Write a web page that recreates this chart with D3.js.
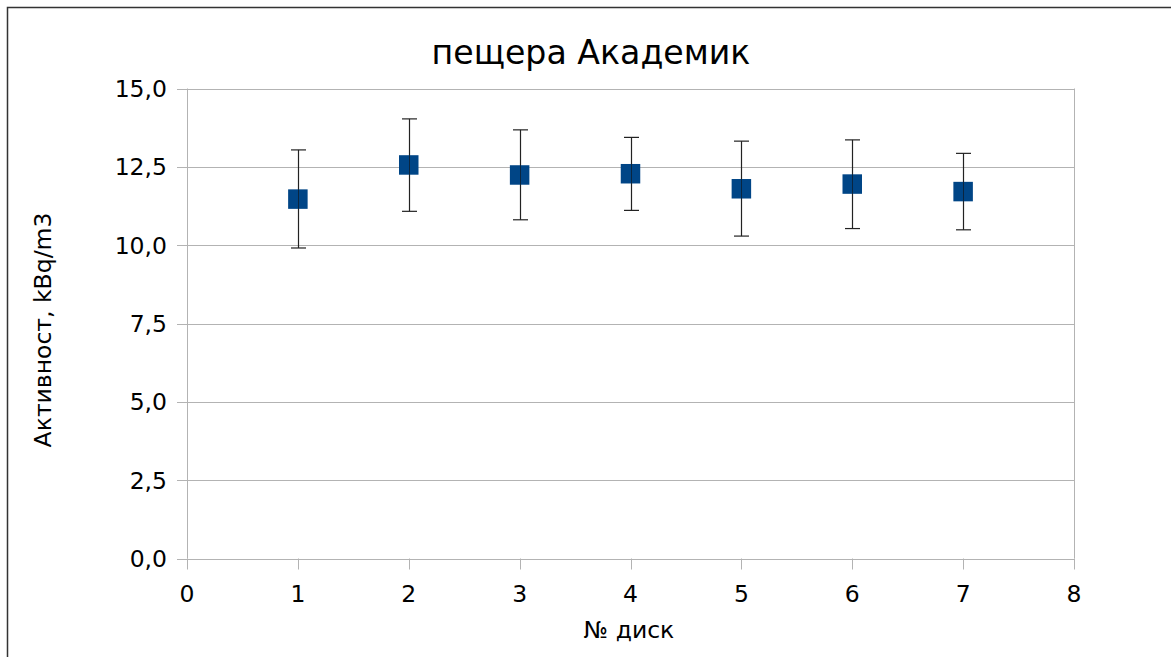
<!DOCTYPE html>
<html>
<head>
<meta charset="utf-8">
<script src="https://cdn.jsdelivr.net/npm/d3@7"></script>
<style>
  body { margin: 0; background: #fff; }
  svg { display: block; font-family: "DejaVu Sans", sans-serif; }
</style>
</head>
<body>
<svg id="chart"></svg>
<script>
const disks = [1, 2, 3, 4, 5, 6, 7];
const activity = [11.47, 12.56, 12.24, 12.28, 11.80, 11.95, 11.71];
const errHigh = [13.04, 14.03, 13.68, 13.44, 13.32, 13.36, 12.93];
const errLow = [9.91, 11.08, 10.81, 11.11, 10.29, 10.53, 10.49];
const yTicks = [0, 2.5, 5, 7.5, 10, 12.5, 15];
const xTicks = [0, 1, 2, 3, 4, 5, 6, 7, 8];

const width = 1171, height = 657;
const plot = { left: 187, right: 1074, top: 88.5, bottom: 558.5 };

const svg = d3.select('#chart')
  .attr('width', width)
  .attr('height', height);

// outer frame (only left and top visible)
svg.append('path')
  .attr('d', `M7.5,${height} V7.5 H${width}`)
  .attr('fill', 'none')
  .attr('stroke', '#333')
  .attr('stroke-width', 1.5);

const x = d3.scaleLinear().domain([0, 8]).range([plot.left, plot.right]);
const y = d3.scaleLinear().domain([0, 15]).range([plot.bottom, plot.top]);

const fmt = d => d.toFixed(1).replace('.', ',');

// horizontal gridlines
svg.append('g')
  .selectAll('line')
  .data(yTicks)
  .join('line')
  .attr('x1', plot.left - 10)
  .attr('x2', plot.right)
  .attr('y1', d => Math.round(y(d)) + 0.5)
  .attr('y2', d => Math.round(y(d)) + 0.5)
  .attr('stroke', '#b3b3b3');

// left and right frame
svg.append('g')
  .selectAll('line')
  .data([0, 8])
  .join('line')
  .attr('x1', d => Math.round(x(d)) + 0.5)
  .attr('x2', d => Math.round(x(d)) + 0.5)
  .attr('y1', plot.top)
  .attr('y2', plot.bottom)
  .attr('stroke', '#b3b3b3');

// y axis labels
svg.append('g')
  .selectAll('text')
  .data(yTicks)
  .join('text')
  .attr('x', plot.left - 20)
  .attr('y', d => y(d))
  .attr('dy', '0.36em')
  .attr('text-anchor', 'end')
  .attr('font-size', 23.5)
  .text(fmt);

// x axis ticks
svg.append('g')
  .selectAll('line')
  .data(xTicks)
  .join('line')
  .attr('x1', d => Math.round(x(d)) + 0.5)
  .attr('x2', d => Math.round(x(d)) + 0.5)
  .attr('y1', plot.bottom)
  .attr('y2', plot.bottom + 11)
  .attr('stroke', '#b3b3b3');

svg.append('g')
  .selectAll('text')
  .data(xTicks)
  .join('text')
  .attr('x', d => x(d))
  .attr('y', 602)
  .attr('text-anchor', 'middle')
  .attr('font-size', 23.5)
  .text(d => d);

// title
svg.append('text')
  .attr('x', 591)
  .attr('y', 64)
  .attr('text-anchor', 'middle')
  .attr('font-size', 33.2)
  .text('пещера Академик');

// axis titles
svg.append('text')
  .attr('x', 629)
  .attr('y', 638)
  .attr('text-anchor', 'middle')
  .attr('font-size', 23.5)
  .text('№ диск');

svg.append('text')
  .attr('transform', 'translate(51,330) rotate(-90)')
  .attr('text-anchor', 'middle')
  .attr('font-size', 23.5)
  .text('Активност, kBq/m3');

// error bars
const eb = svg.append('g')
  .attr('stroke', '#222')
  .attr('stroke-width', 1.2);

disks.forEach((d, i) => {
  const cx = Math.round(x(d)) + 0.5;
  eb.append('line')
    .attr('x1', cx).attr('x2', cx)
    .attr('y1', y(errHigh[i])).attr('y2', y(errLow[i]));
  [errHigh[i], errLow[i]].forEach(v => {
    eb.append('line')
      .attr('x1', cx - 7.5).attr('x2', cx + 7.5)
      .attr('y1', y(v)).attr('y2', y(v));
  });
});

// markers
const size = 19.5;
svg.append('g')
  .selectAll('rect')
  .data(disks)
  .join('rect')
  .attr('x', d => x(d) - size / 2)
  .attr('y', (d, i) => y(activity[i]) - size / 2)
  .attr('width', size)
  .attr('height', size)
  .attr('fill', '#004586');

// error bar line over the marker (as in reference)
const eb2 = svg.append('g')
  .attr('stroke', '#111')
  .attr('stroke-width', 1)
  .attr('opacity', 0.6);
disks.forEach((d, i) => {
  const cx = Math.round(x(d)) + 0.5;
  eb2.append('line')
    .attr('x1', cx).attr('x2', cx)
    .attr('y1', y(activity[i]) - size / 2).attr('y2', y(activity[i]) + size / 2);
});
</script>
</body>
</html>
